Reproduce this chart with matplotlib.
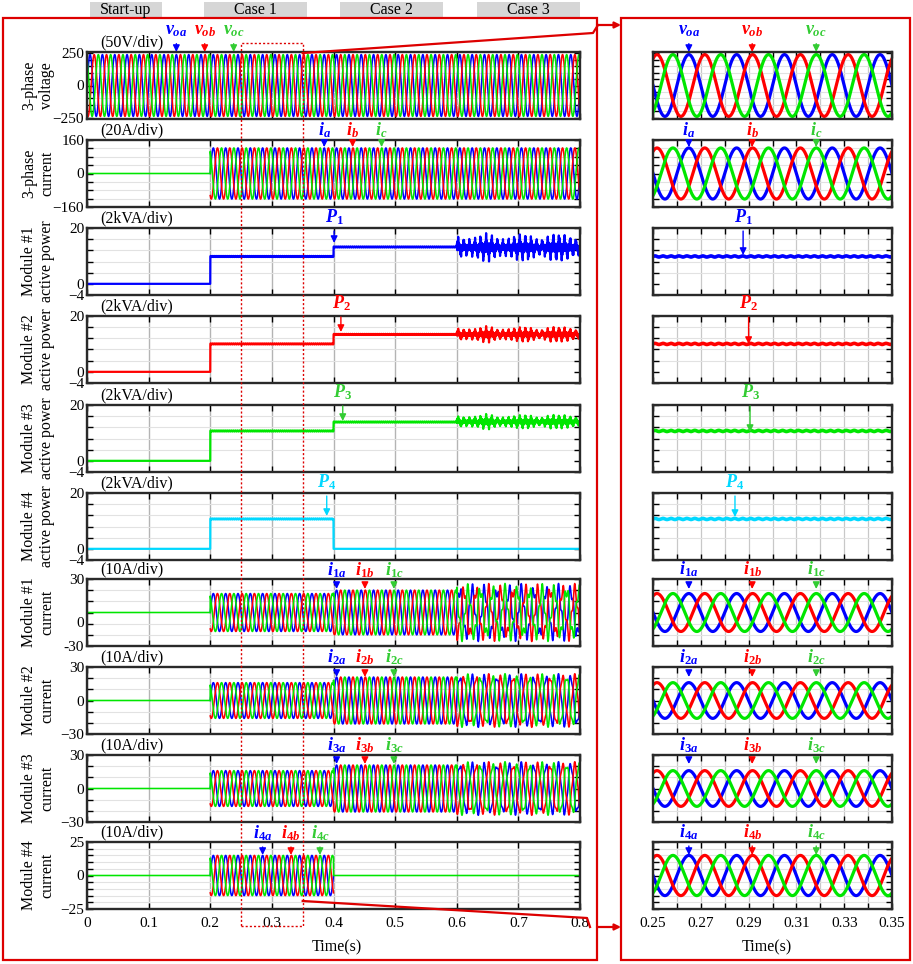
import numpy as np
import matplotlib
matplotlib.use("Agg")
import matplotlib.pyplot as plt
from matplotlib.patches import Rectangle, FancyArrowPatch
from matplotlib.lines import Line2D
from matplotlib.ticker import MultipleLocator, FixedLocator

plt.rcParams['font.family'] = ['Liberation Serif', 'DejaVu Serif']
plt.rcParams['mathtext.fontset'] = 'custom'
plt.rcParams['mathtext.it'] = 'Liberation Serif:italic:bold'
plt.rcParams['mathtext.rm'] = 'Liberation Serif:bold'
plt.rcParams['mathtext.bf'] = 'Liberation Serif:bold'

# ---- data ----
case_edges = [0.0, 0.2, 0.4, 0.6, 0.8]
case_names = ['Start-up', 'Case 1', 'Case 2', 'Case 3']
f0 = 50.0                       # grid frequency (Hz)
v_peak = 240.0                  # output voltage peak (V)
i_grid_peak = [0, 122, 122, 122]  # 3-phase current peak per case (A)
p_mod = [[0, 9.8, 13.2, 13.0],    # module active power per case (kVA)
         [0, 10.0, 13.4, 13.4],
         [0, 10.7, 13.9, 14.0],
         [0, 10.7, 0, 0]]
p_swing3 = [5.0, 2.8, 2.6, 0.0]    # power oscillation in case 3
i_mod = [[0, 17, 20, 20],          # module phase current peak per case (A)
         [0, 16, 21, 21],
         [0, 16, 21, 21],
         [0, 15, 0, 0]]
i_interh3 = [6.0, 3.0, 3.0, 0.0]   # distortion in case 3
f_interh = 165.0
f_pspike = 110.0

row_labels = ['3-phase\nvoltage', '3-phase\ncurrent', 'Module #1\nactive power',
              'Module #2\nactive power', 'Module #3\nactive power',
              'Module #4\nactive power', 'Module #1\ncurrent', 'Module #2\ncurrent',
              'Module #3\ncurrent', 'Module #4\ncurrent']
div_labels = ['(50V/div)', '(20A/div)', '(2kVA/div)', '(2kVA/div)', '(2kVA/div)',
              '(2kVA/div)', '(10A/div)', '(10A/div)', '(10A/div)', '(10A/div)']
ylims = [(-260, 260), (-160, 160), (-4, 20), (-4, 20), (-4, 20), (-4, 20),
         (-30, 30), (-30, 30), (-30, 30), (-25, 25)]
ymajors = [[-250, 0, 250], [-160, 0, 160], [-4, 0, 20], [-4, 0, 20], [-4, 0, 20],
           [-4, 0, 20], [-30, 0, 30], [-30, 0, 30], [-30, 0, 30], [-25, 0, 25]]
yminors = [50, 40, 4, 4, 4, 4, 10, 10, 10, 5]

BLUE, RED, GREEN, CYAN = '#0000ff', '#ff0000', '#00e600', '#00d8ff'
GREEN_T = '#33cc33'
phase_col = [BLUE, RED, GREEN]
phase_shift = [0.0, -2*np.pi/3, 2*np.pi/3]
p_col = [BLUE, RED, GREEN, CYAN]

W, H = 913, 964
fig = plt.figure(figsize=(W/100, H/100), dpi=100)

tops = [52, 140, 228, 316, 405, 493, 579, 667, 755, 842]
ah = 67
LX0, LX1 = 87, 580
RX0, RX1 = 653, 892


def seg_of(t):
    return np.searchsorted(case_edges[1:-1], t, side='right')


def three_phase(t, amps, interh=0.0):
    s = seg_of(t)
    a = np.array(amps, float)[s]
    out = []
    for n, ph in enumerate(phase_shift):
        y = a*np.sin(2*np.pi*f0*t + ph)
        if interh:
            y = y + interh*(s == 3)*np.sin(2*np.pi*f_interh*t + ph)
        if n < 2:
            # the flat zero trace is drawn by the last (green) phase only
            y = np.where(a == 0, np.nan, y)
        out.append(y)
    return out


def power(t, k):
    s = seg_of(t)
    lvl = np.array(p_mod[k], float)[s]
    on = lvl > 0
    rip = 0.2*np.sin(2*np.pi*300*t)*on
    band = 0.3*np.sin(2*np.pi*950*t) + 0.7*np.sin(2*np.pi*f_pspike*t)**5
    osc = p_swing3[k]*(s == 3)*band*(0.8 + 0.2*np.cos(2*np.pi*17*t))
    return lvl + rip + osc


def row_data(t, r):
    if r == 0:
        return [(v_peak*np.sin(2*np.pi*f0*t + ph), c) for ph, c in zip(phase_shift, phase_col)]
    if r == 1:
        return list(zip(three_phase(t, i_grid_peak), phase_col))
    if 2 <= r <= 5:
        return [(power(t, r-2), p_col[r-2])]
    k = r - 6
    return list(zip(three_phase(t, i_mod[k], i_interh3[k]), phase_col))


def add_ax(x0, x1, top):
    return fig.add_axes([x0/W, 1-(top+ah)/H, (x1-x0)/W, ah/H])


def style(ax, r):
    ax.set_ylim(ylims[r])
    ax.yaxis.set_major_locator(FixedLocator(ymajors[r]))
    ax.yaxis.set_minor_locator(MultipleLocator(yminors[r]))
    ax.tick_params(which='both', direction='in', top=True, right=True,
                   labelsize=11, pad=2, width=1)
    ax.tick_params(which='major', length=4)
    ax.tick_params(which='minor', length=4)
    ax.grid(which='minor', axis='y', color='#e2e2e2', lw=0.8)
    for s in ax.spines.values():
        s.set_linewidth(1.7)
        s.set_color('#2a2a2a')
    ax.set_axisbelow(True)


t_left = np.linspace(0, 0.8, 24001)
t_right = np.linspace(0.25, 0.35, 3001)

left_axes, right_axes = [], []
for r in range(10):
    # left panel
    ax = add_ax(LX0, LX1, tops[r])
    for y, c in row_data(t_left, r):
        ax.plot(t_left, y, color=c, lw=1.15 if r not in (2, 3, 4, 5) else 1.6)
    ax.set_xlim(0, 0.8)
    style(ax, r)
    ax.xaxis.set_major_locator(MultipleLocator(0.1))
    ax.grid(which='major', axis='x', color='#b4b4b4', lw=1.0)
    ax.grid(which='major', axis='y', visible=False)
    if r < 9:
        ax.tick_params(labelbottom=False)
    else:
        ax.set_xticks([0, 0.1, 0.2, 0.3, 0.4, 0.5, 0.6, 0.7, 0.8])
        ax.set_xticklabels(['0', '0.1', '0.2', '0.3', '0.4', '0.5', '0.6', '0.7', '0.8'])
        ax.tick_params(axis='x', pad=6)
    if r == 6:
        # the zero label of this panel sits one division low in the original
        ax.set_yticklabels(['-30', '', '30'])
        ax.annotate('0', xy=(0, 0), xycoords=('axes fraction', 'data'),
                    xytext=(-3, -11), textcoords='offset pixels',
                    ha='right', va='center', fontsize=11)
    ax.text(0.026, 1.0 + 10/ah, div_labels[r], transform=ax.transAxes,
            ha='left', va='center', fontsize=11.5)
    fig.text(38/W, 1-(tops[r]+ah/2)/H, row_labels[r], rotation=90, ha='center',
             va='center', fontsize=11.5, linespacing=1.15, multialignment='center')
    left_axes.append(ax)

    # right zoom panel
    axr = add_ax(RX0, RX1, tops[r])
    for y, c in row_data(t_right, r):
        axr.plot(t_right, y, color=c, lw=2.3 if r not in (2, 3, 4, 5) else 2.6)
    axr.set_xlim(0.25, 0.35)
    style(axr, r)
    axr.xaxis.set_major_locator(MultipleLocator(0.02))
    axr.xaxis.set_minor_locator(MultipleLocator(0.01))
    axr.grid(which='both', axis='x', color='#c8c8c8', lw=0.9)
    axr.grid(which='major', axis='y', visible=False)
    axr.tick_params(labelleft=False)
    if r < 9:
        axr.tick_params(labelbottom=False)
    else:
        axr.set_xticks([0.25, 0.27, 0.29, 0.31, 0.33, 0.35])
        axr.set_xticklabels(['0.25', '0.27', '0.29', '0.31', '0.33', '0.35'])
        axr.tick_params(axis='x', pad=6)
    right_axes.append(axr)

fig.text(337/W, 1-947/H, 'Time(s)', ha='center', va='center', fontsize=11.5)
fig.text(767/W, 1-947/H, 'Time(s)', ha='center', va='center', fontsize=11.5)

# ---- arrows with waveform names ----
left_marks = [
    (0, 0.145, r'$v_{oa}$', BLUE, 31, 52), (0, 0.191, r'$v_{ob}$', RED, 31, 52),
    (0, 0.238, r'$v_{oc}$', GREEN_T, 31, 52),
    (1, 0.385, r'$i_a$', BLUE, 130, 147), (1, 0.431, r'$i_b$', RED, 130, 147),
    (1, 0.478, r'$i_c$', GREEN_T, 130, 147),
    (2, 0.401, r'$P_1$', BLUE, 217, 243), (3, 0.412, r'$P_2$', RED, 303, 332),
    (4, 0.415, r'$P_3$', GREEN_T, 392, 421), (5, 0.389, r'$P_4$', CYAN, 482, 516),
    (6, 0.405, r'$i_{1a}$', BLUE, 570, 589), (6, 0.451, r'$i_{1b}$', RED, 570, 589),
    (6, 0.498, r'$i_{1c}$', GREEN_T, 570, 589),
    (7, 0.405, r'$i_{2a}$', BLUE, 657, 677), (7, 0.451, r'$i_{2b}$', RED, 657, 677),
    (7, 0.498, r'$i_{2c}$', GREEN_T, 657, 677),
    (8, 0.405, r'$i_{3a}$', BLUE, 745, 764), (8, 0.451, r'$i_{3b}$', RED, 745, 764),
    (8, 0.498, r'$i_{3c}$', GREEN_T, 745, 764),
    (9, 0.285, r'$i_{4a}$', BLUE, 833, 855), (9, 0.331, r'$i_{4b}$', RED, 833, 855),
    (9, 0.378, r'$i_{4c}$', GREEN_T, 833, 855),
]
right_marks = [
    (0, 0.265, r'$v_{oa}$', BLUE, 31, 52), (0, 0.2915, r'$v_{ob}$', RED, 31, 52),
    (0, 0.3183, r'$v_{oc}$', GREEN_T, 31, 52),
    (1, 0.265, r'$i_a$', BLUE, 130, 147), (1, 0.2915, r'$i_b$', RED, 130, 147),
    (1, 0.3183, r'$i_c$', GREEN_T, 130, 147),
    (2, 0.2877, r'$P_1$', BLUE, 217, 255), (3, 0.290, r'$P_2$', RED, 303, 344),
    (4, 0.2906, r'$P_3$', GREEN_T, 392, 432), (5, 0.2843, r'$P_4$', CYAN, 482, 517),
    (6, 0.265, r'$i_{1a}$', BLUE, 569, 589), (6, 0.2915, r'$i_{1b}$', RED, 569, 589),
    (6, 0.3183, r'$i_{1c}$', GREEN_T, 569, 589),
    (7, 0.265, r'$i_{2a}$', BLUE, 657, 677), (7, 0.2915, r'$i_{2b}$', RED, 657, 677),
    (7, 0.3183, r'$i_{2c}$', GREEN_T, 657, 677),
    (8, 0.265, r'$i_{3a}$', BLUE, 745, 764), (8, 0.2915, r'$i_{3b}$', RED, 745, 764),
    (8, 0.3183, r'$i_{3c}$', GREEN_T, 745, 764),
    (9, 0.265, r'$i_{4a}$', BLUE, 832, 855), (9, 0.2915, r'$i_{4b}$', RED, 832, 855),
    (9, 0.3183, r'$i_{4c}$', GREEN_T, 832, 855),
]


def mark(ax, r, t, label, color, text_py, tip_py):
    tr = ax.get_xaxis_transform()
    yt = 1 - (text_py - tops[r])/ah
    yh = 1 - (tip_py - tops[r])/ah
    ax.annotate(label, xy=(t, yh), xytext=(t, yt), xycoords=tr, textcoords=tr,
                ha='center', va='center', color=color, fontsize=13,
                annotation_clip=False, zorder=10,
                arrowprops=dict(arrowstyle='-|>', color=color, lw=1.0,
                                shrinkA=1, shrinkB=0, mutation_scale=10))


for r, t, lab, c, ty, hy in left_marks:
    mark(left_axes[r], r, t, lab, c, ty, hy)
for r, t, lab, c, ty, hy in right_marks:
    mark(right_axes[r], r, t, lab, c, ty, hy)

# ---- case boxes on top ----
case_box_px = [(90, 162), (204, 307), (340, 443), (477, 580)]
for (x0, x1), name in zip(case_box_px, case_names):
    fig.add_artist(Rectangle((x0/W, 1-17/H), (x1-x0)/W, 15/H, transform=fig.transFigure,
                             facecolor='#d6d6d6', edgecolor='none'))
    fig.text((x0+x1)/2/W, 1-9.5/H, name, ha='center', va='center', fontsize=11.5)

# ---- red frames and zoom indication ----
FR = '#dd0000'
fig.add_artist(Rectangle((3/W, 1-960/H), 594/W, 942/H, transform=fig.transFigure,
                         facecolor='none', edgecolor=FR, lw=1.6))
fig.add_artist(Rectangle((621/W, 1-960/H), 289/W, 942/H, transform=fig.transFigure,
                         facecolor='none', edgecolor=FR, lw=1.6))
zx0 = LX0 + 0.25/0.8*(LX1-LX0)
zx1 = LX0 + 0.35/0.8*(LX1-LX0)
fig.add_artist(Rectangle((zx0/W, 1-926/H), (zx1-zx0)/W, (926-43)/H,
                         transform=fig.transFigure, facecolor='none',
                         edgecolor=FR, lw=1.0, linestyle=(0, (1.5, 1.5))))


def fig_line(xs, ys):
    fig.add_artist(Line2D(np.array(xs)/W, 1-np.array(ys)/H, transform=fig.transFigure,
                          color=FR, lw=1.6))


fig_line([zx1, 593, 598], [53, 33, 25])
fig_line([zx1, 587, 590], [901, 918, 927])
for y in (25, 927):
    fig.add_artist(FancyArrowPatch((597/W, 1-y/H), (621/W, 1-y/H), transform=fig.transFigure,
                                   arrowstyle='-|>', mutation_scale=9, color=FR, lw=1.6,
                                   shrinkA=0, shrinkB=0))

fig.savefig('out.png', dpi=100)
